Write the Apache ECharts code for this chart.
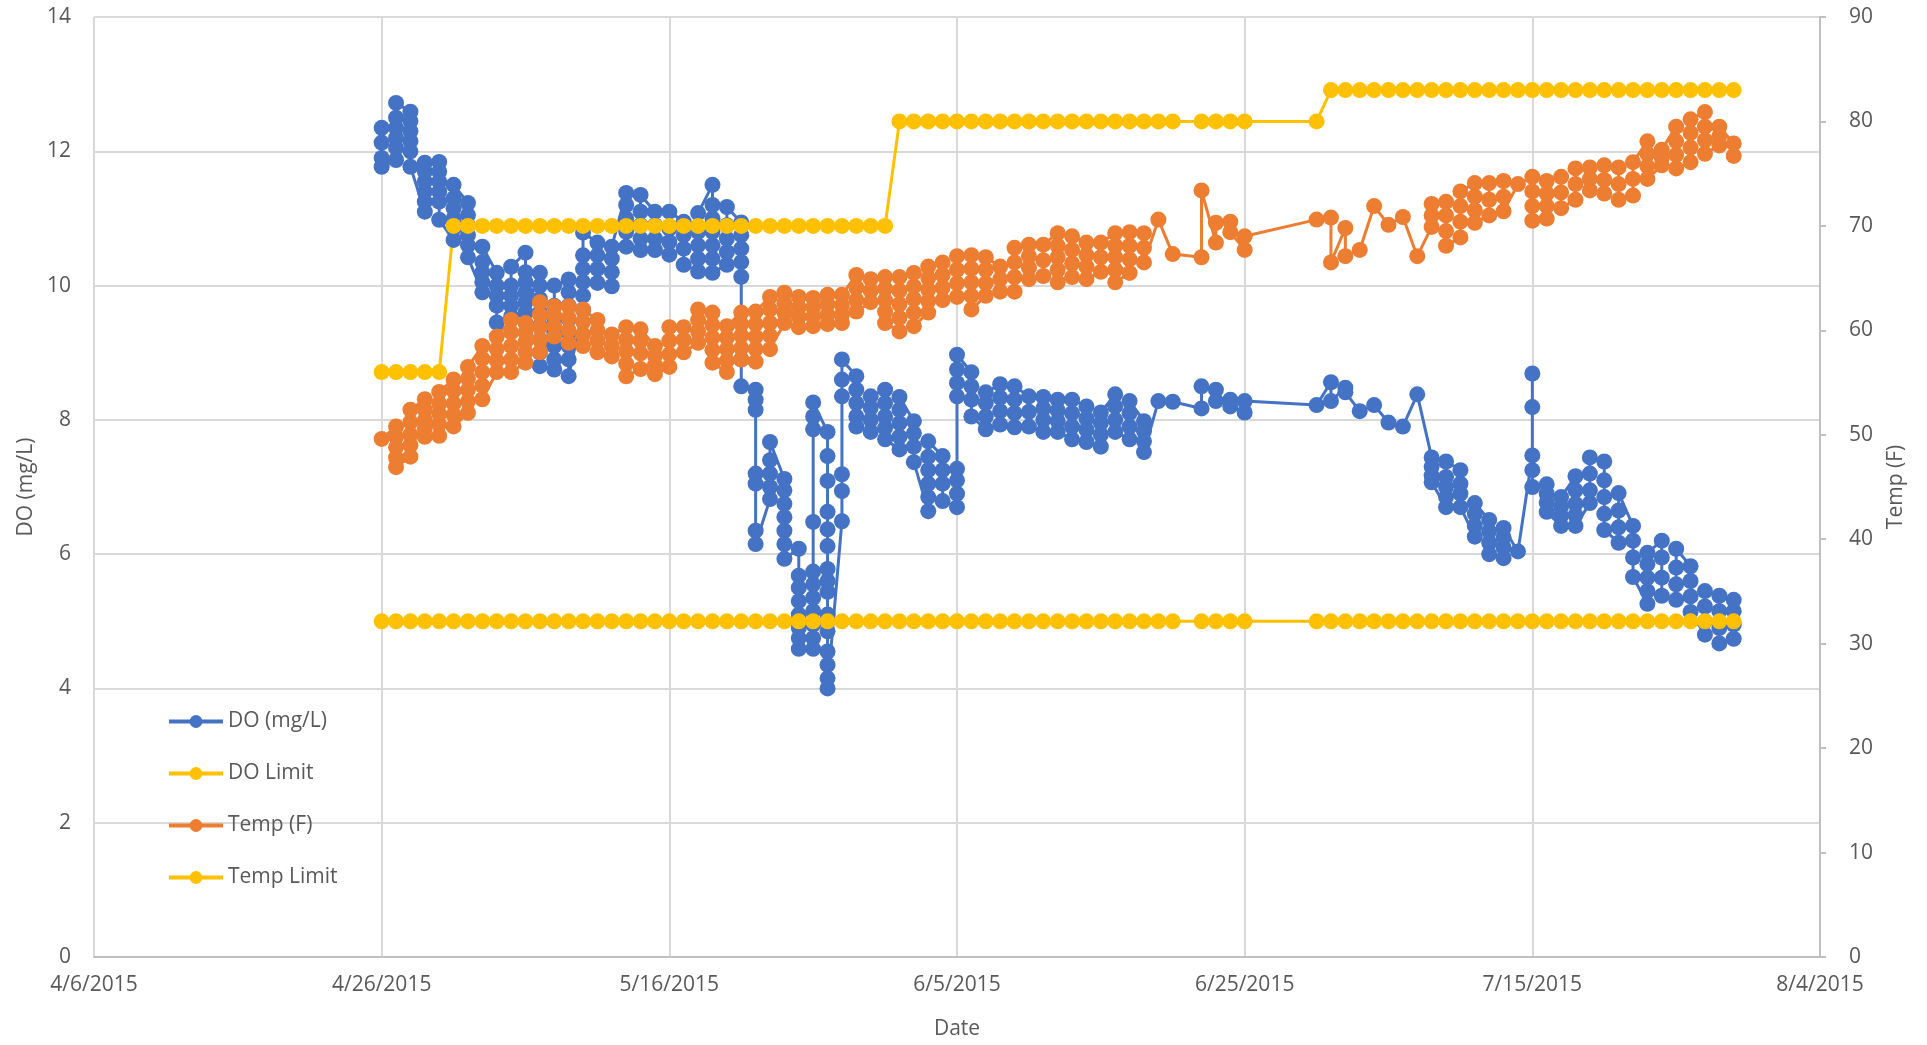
<!DOCTYPE html>
<html>
<head>
<meta charset="utf-8">
<title>DO and Temp</title>
<script src="https://cdn.jsdelivr.net/npm/echarts@6/dist/echarts.min.js"></script>
<style>
  html, body { margin: 0; padding: 0; background: #fff; }
  #chart { width: 1927px; height: 1045px; }
</style>
</head>
<body>
<div id="chart"></div>
<script>
// sampling days (Excel stores them without time, so each day holds several readings)
const days = [
  '4/26/2015', '4/27/2015', '4/28/2015', '4/29/2015', '4/30/2015',
  '5/1/2015', '5/2/2015', '5/3/2015', '5/4/2015', '5/5/2015', '5/6/2015', '5/7/2015', '5/8/2015',
  '5/9/2015', '5/10/2015', '5/11/2015', '5/12/2015', '5/13/2015', '5/14/2015', '5/15/2015', '5/16/2015',
  '5/17/2015', '5/18/2015', '5/19/2015', '5/20/2015', '5/21/2015', '5/22/2015', '5/23/2015', '5/24/2015',
  '5/25/2015', '5/26/2015', '5/27/2015', '5/28/2015', '5/29/2015', '5/30/2015', '5/31/2015',
  '6/1/2015', '6/2/2015', '6/3/2015', '6/4/2015', '6/5/2015', '6/6/2015', '6/7/2015', '6/8/2015',
  '6/9/2015', '6/10/2015', '6/11/2015', '6/12/2015', '6/13/2015', '6/14/2015', '6/15/2015', '6/16/2015',
  '6/17/2015', '6/18/2015', '6/19/2015', '6/20/2015', '6/22/2015', '6/23/2015', '6/24/2015', '6/25/2015',
  '6/30/2015', '7/1/2015', '7/2/2015', '7/3/2015', '7/4/2015', '7/5/2015', '7/6/2015', '7/7/2015',
  '7/8/2015', '7/9/2015', '7/10/2015', '7/11/2015', '7/12/2015', '7/13/2015', '7/14/2015', '7/15/2015',
  '7/16/2015', '7/17/2015', '7/18/2015', '7/19/2015', '7/20/2015', '7/21/2015', '7/22/2015', '7/23/2015',
  '7/24/2015', '7/25/2015', '7/26/2015', '7/27/2015', '7/28/2015', '7/29/2015'
]

// DO (mg/L) readings per day
const doReadings = [
  [12.35, 12.13, 11.9, 11.77], [11.87, 12.05, 12.2, 12.35, 12.5, 12.72], [12.59, 12.45, 12.3, 12.15, 12.0, 11.77],
  [11.1, 11.25, 11.4, 11.55, 11.7, 11.83], [11.84, 11.7, 11.55, 11.4, 11.25, 10.98],
  [10.68, 10.85, 11.0, 11.15, 11.3, 11.5], [11.23, 11.05, 10.9, 10.75, 10.6, 10.42], [9.9, 10.05, 10.2, 10.35, 10.58],
  [10.19, 10.0, 9.85, 9.7, 9.45], [9.54, 9.7, 9.85, 10.0, 10.28], [10.49, 10.2, 10.05, 9.9, 9.75, 9.6],
  [10.19, 10.0, 9.8, 9.6, 9.4, 9.2, 9.0, 8.8], [8.75, 8.9, 9.1, 9.3, 9.5, 9.7, 10.0],
  [10.09, 9.9, 9.7, 9.5, 9.3, 9.1, 8.9, 8.65], [9.64, 9.85, 10.05, 10.25, 10.45, 10.79], [10.64, 10.45, 10.25, 10.04],
  [9.99, 10.2, 10.4, 10.58], [11.38, 11.2, 11.0, 10.8, 10.58], [10.53, 10.7, 10.9, 11.1, 11.35],
  [11.1, 10.9, 10.7, 10.53], [10.46, 10.65, 10.85, 11.1], [10.95, 10.75, 10.55, 10.31],
  [10.21, 10.4, 10.6, 10.8, 11.08], [11.5, 11.2, 11.0, 10.8, 10.6, 10.4, 10.19], [10.31, 10.5, 10.7, 10.9, 11.17],
  [10.94, 10.75, 10.55, 10.35, 10.13, 8.9, 8.5], [8.45, 8.3, 8.15, 7.2, 7.05, 6.35, 6.15], [6.82, 7.0, 7.2, 7.4, 7.67],
  [7.12, 6.95, 6.75, 6.55, 6.35, 6.15, 5.93], [6.08, 5.68, 5.5, 5.3, 5.1, 4.9, 4.75, 4.59],
  [4.59, 4.75, 4.95, 5.15, 5.35, 5.55, 5.74, 6.48, 7.86, 8.05, 8.26],
  [7.82, 7.46, 7.09, 6.63, 6.37, 6.12, 5.78, 5.6, 5.44, 5.1, 4.85, 4.55, 4.35, 4.15, 4.0],
  [6.49, 6.94, 7.19, 8.35, 8.6, 8.9], [8.65, 8.45, 8.25, 8.05, 7.9], [7.82, 8.0, 8.18, 8.35],
  [8.45, 8.25, 8.05, 7.88, 7.71], [7.56, 7.75, 7.95, 8.15, 8.34], [7.98, 7.8, 7.6, 7.37],
  [6.64, 6.85, 7.05, 7.25, 7.45, 7.68], [7.46, 7.25, 7.05, 6.79], [6.7, 6.9, 7.1, 7.27, 8.35, 8.55, 8.75, 8.97],
  [8.71, 8.5, 8.3, 8.05], [7.86, 8.05, 8.25, 8.41], [8.53, 8.33, 8.13, 7.93], [7.89, 8.1, 8.3, 8.5],
  [8.35, 8.12, 7.9], [7.82, 8.0, 8.17, 8.34], [8.3, 8.14, 7.98, 7.82], [7.71, 7.9, 8.1, 8.3],
  [8.2, 8.02, 7.85, 7.67], [7.6, 7.78, 7.95, 8.11], [8.38, 8.2, 8.0, 7.82], [7.71, 7.9, 8.1, 8.28],
  [7.98, 7.83, 7.68, 7.52], [8.28], [8.27],
  [8.17, 8.5], [8.45, 8.28], [8.3, 8.2], [8.11, 8.28],
  [8.22], [8.56, 8.28], [8.48, 8.41], [8.13], [8.22], [7.96], [7.9], [8.38],
  [7.44, 7.3, 7.17, 7.07], [6.7, 6.85, 7.0, 7.15, 7.38], [7.25, 7.05, 6.9, 6.7], [6.26, 6.42, 6.6, 6.76],
  [6.51, 6.34, 6.17, 6.0], [5.94, 6.1, 6.25, 6.39], [6.04], [7.47, 8.19, 8.69, 7.25, 7.0],
  [7.04, 6.9, 6.77, 6.63], [6.42, 6.57, 6.71, 6.85], [7.16, 6.95, 6.75, 6.58, 6.42], [6.76, 6.95, 7.2, 7.44],
  [7.38, 7.1, 6.85, 6.6, 6.36], [6.17, 6.4, 6.65, 6.91], [6.42, 6.2, 5.95, 5.66], [5.26, 5.45, 5.65, 5.85, 6.02],
  [6.2, 5.95, 5.65, 5.38], [5.32, 5.55, 5.8, 6.08], [5.82, 5.6, 5.37, 5.14], [4.8, 5.0, 5.22, 5.45],
  [5.38, 5.15, 4.9, 4.67], [4.74, 4.95, 5.15, 5.32]
]

// Temp (F) readings per day
const tempReadings = [
  [49.6], [50.8, 49.8, 48.8, 47.8, 46.9], [47.9, 49, 50, 51.2, 52.4], [53.4, 52.4, 51.4, 50.6, 49.8],
  [49.9, 51, 52, 53, 54.1],
  [55.3, 54.2, 53, 51.9, 50.8], [52.1, 53.2, 54.3, 55.4, 56.5], [58.5, 57.3, 56, 54.7, 53.4], [56, 57.1, 58.2, 59.4],
  [61, 59.8, 58.5, 57.2, 56], [56.9, 57.9, 58.9, 59.8, 60.7], [62.7, 61.5, 60.3, 59.1, 57.9], [59.4, 60.4, 61.4, 62.3],
  [62.3, 61.2, 60, 58.8], [58.5, 59.6, 60.8, 62], [61, 60, 59, 57.9], [57.5, 58.5, 59.6],
  [60.3, 59.1, 58, 56.8, 55.6], [56.3, 57.8, 59, 60.1], [58.5, 57.6, 56.7, 55.8], [56.5, 57.7, 59, 60.3],
  [60.3, 59.1, 57.9], [58.8, 59.9, 61, 62], [61.7, 60.5, 59.3, 58.1, 56.9], [56, 57.1, 58.2, 59.3, 60.4],
  [61.7, 60.6, 59.5, 58.3, 57.2], [57, 58.2, 59.4, 60.6, 61.8], [63.2, 62, 60.7, 59.5, 58.2], [60.7, 61.7, 62.6, 63.6],
  [63.2, 62.2, 61.3, 60.3], [60.4, 61.3, 62.2, 63.1], [63.4, 62.5, 61.5, 60.6], [60.7, 61.5, 62.4, 63.4],
  [65.3, 64.1, 62.9, 61.8], [62.7, 63.8, 64.9], [65.1, 64, 62.9, 61.8, 60.7],
  [59.9, 61.2, 62.5, 63.8, 65.1], [65.5, 64.2, 63, 61.7, 60.4], [61.7, 62.8, 63.9, 65, 66.1], [66.5, 65.3, 64.1, 62.9],
  [63.2, 64.5, 65.8, 67.1], [67.2, 65.9, 64.6, 63.3, 62], [63.3, 64.5, 65.8, 67], [66.1, 64.9, 63.7],
  [63.7, 65.1, 66.5, 67.9], [68.2, 67.1, 66, 64.9], [65.2, 66.7, 68.2], [69.3, 68.1, 67, 65.8, 64.6],
  [65.1, 66.4, 67.7, 69], [68.4, 67.2, 66.1, 64.9], [65.6, 67, 68.4], [69.3, 68.1, 67, 65.8, 64.6],
  [65.5, 66.8, 68.1, 69.4], [69.3, 67.9, 66.5], [70.6], [67.3],
  [67, 73.4], [68.4, 70.3], [70.4, 69.4], [67.7, 69],
  [70.6], [70.8, 66.5], [69.8, 67.1], [67.7], [71.9], [70.1], [70.85], [67.1],
  [69.9, 71, 72.1], [72.3, 71, 69.5, 68.1], [68.9, 70.4, 71.9, 73.3], [74.1, 72.8, 71.5, 70.3],
  [71, 72.5, 74.1], [74.3, 72.8, 71.4], [74], [74.7, 73.3, 71.9, 70.5],
  [70.7, 71.9, 73.1, 74.3], [74.7, 73.2, 71.7], [72.5, 74, 75.5], [75.6, 74.5, 73.4],
  [73.1, 74.4, 75.8], [75.6, 74, 72.5], [72.9, 74.5, 76.1], [78.1, 76.9, 75.7, 74.5],
  [75.8, 76.5, 77.3], [79.5, 78.1, 76.8, 75.5], [76.1, 77.5, 78.9, 80.2], [80.9, 79.5, 78.2, 76.9],
  [77.7, 78.6, 79.5], [77.9, 76.7]
]

// limits, one per day
const doLimit = [
  5, 5, 5, 5, 5, 5, 5, 5, 5, 5, 5, 5, 5, 5, 5, 5, 5, 5, 5, 5, 5, 5, 5, 5, 5, 5, 5, 5, 5, 5,
  5, 5, 5, 5, 5, 5, 5, 5, 5, 5, 5, 5, 5, 5, 5, 5, 5, 5, 5, 5, 5, 5, 5, 5, 5, 5, 5, 5, 5, 5,
  5, 5, 5, 5, 5, 5, 5, 5, 5, 5, 5, 5, 5, 5, 5, 5, 5, 5, 5, 5, 5, 5, 5, 5, 5, 5, 5, 5, 5, 5
]
const tempLimit = [
  56, 56, 56, 56, 56,
  70, 70, 70, 70, 70, 70, 70, 70, 70, 70, 70, 70, 70, 70, 70, 70,
  70, 70, 70, 70, 70, 70, 70, 70, 70, 70, 70, 70, 70, 70, 70,
  80, 80, 80, 80, 80, 80, 80, 80, 80, 80, 80, 80, 80, 80, 80, 80, 80, 80, 80, 80,
  80, 80, 80, 80, 80,
  83, 83, 83, 83, 83, 83, 83, 83, 83, 83, 83, 83, 83, 83, 83, 83, 83, 83, 83, 83,
  83, 83, 83, 83, 83, 83, 83, 83, 83
]

const xTicks = { min: 42100, max: 42220, step: 20 } // 4/6/2015 .. 8/4/2015 as Excel serials

const FONT = 'Open Sans'
const TEXT = '#595959'

// m/d/yyyy -> Excel serial day
function toSerial(s) {
  const p = s.split('/').map(Number)
  return Date.UTC(p[2], p[0] - 1, p[1]) / 86400000 + 25569
}
function serialLabel(v) {
  const d = new Date((v - 25569) * 86400000)
  return (d.getUTCMonth() + 1) + '/' + d.getUTCDate() + '/' + d.getUTCFullYear()
}

function expand(readings) {
  const out = []
  readings.forEach((vals, i) => {
    const x = toSerial(days[i])
    vals.forEach(v => out.push([x, v]))
  })
  return out
}
function perDay(vals) {
  return vals.map((v, i) => [toSerial(days[i]), v])
}

function lineSeries(name, color, data, yIndex) {
  return {
    name: name,
    type: 'line',
    yAxisIndex: yIndex,
    data: data,
    symbol: 'circle',
    symbolSize: 16,
    showAllSymbol: true,
    animation: false,
    itemStyle: { color: color, borderWidth: 0, borderColor: color },
    lineStyle: { color: color, width: 3 },
    emphasis: { disabled: true }
  }
}

const myChart = echarts.init(document.getElementById('chart'))
const option = {
  backgroundColor: '#fff',
  textStyle: { fontFamily: FONT },
  grid: { left: 94, right: 107, top: 17, bottom: 86 },
  legend: {
    orient: 'vertical',
    left: 162,
    top: 706,
    itemWidth: 54,
    itemHeight: 16,
    itemGap: 31,
    lineStyle: { width: 4 },
    itemStyle: { borderWidth: 0 },
    textStyle: { fontFamily: FONT, fontSize: 21, color: TEXT },
    data: ['DO (mg/L)', 'DO Limit', 'Temp (F)', 'Temp Limit']
  },
  xAxis: {
    type: 'value',
    min: xTicks.min,
    max: xTicks.max,
    interval: xTicks.step,
    name: 'Date',
    nameLocation: 'middle',
    nameGap: 62,
    nameTextStyle: { fontFamily: FONT, fontSize: 21, color: TEXT },
    axisLine: { show: true, lineStyle: { color: '#BFBFBF', width: 2 } },
    axisTick: { show: false },
    axisLabel: { fontFamily: FONT, fontSize: 21, color: TEXT, margin: 18, formatter: serialLabel },
    splitLine: { show: true, lineStyle: { color: '#D9D9D9', width: 2 } }
  },
  yAxis: [
    {
      type: 'value',
      position: 'left',
      min: 0,
      max: 14,
      interval: 2,
      name: 'DO (mg/L)',
      nameLocation: 'middle',
      nameGap: 56,
      nameTextStyle: { fontFamily: FONT, fontSize: 21, color: TEXT },
      axisLine: { show: false },
      axisTick: { show: false },
      axisLabel: { fontFamily: FONT, fontSize: 21, color: TEXT, margin: 23 },
      splitLine: { show: true, lineStyle: { color: '#D9D9D9', width: 2 } }
    },
    {
      type: 'value',
      position: 'right',
      min: 0,
      max: 90,
      interval: 10,
      name: 'Temp (F)',
      nameLocation: 'middle',
      nameGap: 66,
      nameTextStyle: { fontFamily: FONT, fontSize: 21, color: TEXT },
      axisLine: { show: true, lineStyle: { color: '#BFBFBF', width: 2 } },
      axisTick: { show: true, length: 6, lineStyle: { color: '#BFBFBF', width: 2 } },
      axisLabel: { fontFamily: FONT, fontSize: 21, color: TEXT, margin: 29 },
      splitLine: { show: false }
    }
  ],
  series: [
    lineSeries('DO (mg/L)', '#4472C4', expand(doReadings), 0),
    lineSeries('DO Limit', '#FFC000', perDay(doLimit), 0),
    lineSeries('Temp (F)', '#ED7D31', expand(tempReadings), 1),
    lineSeries('Temp Limit', '#FFC000', perDay(tempLimit), 1)
  ]
}
option && myChart.setOption(option)
</script>
</body>
</html>
